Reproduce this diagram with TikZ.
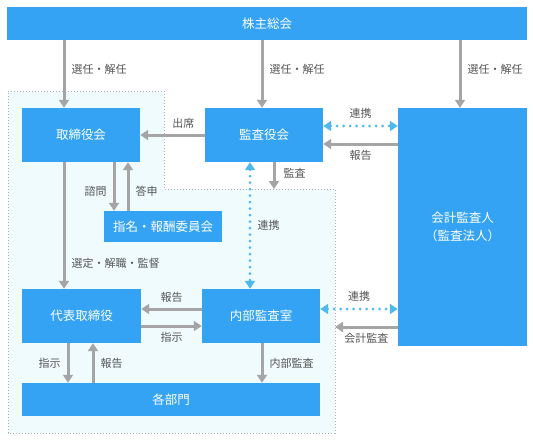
\documentclass[tikz,border=0pt]{standalone}
\usepackage{fontspec}
\setmainfont{Noto Sans CJK JP}
\usetikzlibrary{arrows.meta,calc}
\definecolor{boxblue}{HTML}{34A3F4}
\definecolor{linkblue}{HTML}{4DB9EF}
\definecolor{arrowgray}{HTML}{A5A5A5}
\definecolor{labelgray}{HTML}{555555}
\definecolor{areafill}{HTML}{EFFBFD}
\definecolor{arealine}{HTML}{AFAFAF}

\begin{document}
\begin{tikzpicture}[
    x=1pt, y=-1pt,
    b/.style ={
        fill=boxblue,
        text=white,
        font=\fontsize{12.5}{18}\selectfont,
        inner sep=0pt,
        align=center
    },
    arr/.style ={
        draw=arrowgray,
        line width=3pt,
        -{Triangle[width=10pt,length=8pt]}
    },
    link/.style ={
        draw=linkblue,
        line width=3pt,
        line cap=round,
        dash pattern=on 0pt off 6.5pt,
        {Triangle[width=10pt,length=8pt]}-{Triangle[width=10pt,length=8pt]}
    },
    lbl/.style ={
        text=labelgray,
        font=\fontsize{11}{13}\selectfont,
        inner sep=3pt
    }
    ]

    \useasboundingbox (0,0) rectangle (533,442);

    % area of the company
    \coordinate (regtop) at (335,189);
    \draw[dotted, line width=1pt, draw=arealine, fill=areafill]
        (8,91) -- (164,91) -- (164,189) -- (regtop) -- (335,433) -- (8,433) -- cycle;

    \node[b, minimum width=520pt, minimum height=33pt] (soukai) at (267,23.5) {株主総会};
    \node[b, minimum width=118pt, minimum height=54pt] (torishimari) at (81,135) {取締役会};
    \node[b, minimum width=118pt, minimum height=54pt] (kansayaku) at (264,135) {監査役会};
    \node[b, minimum width=129pt, minimum height=238pt] (kaikei) at (462.5,227) {会計監査人\\（監査法人）};
    \node[b, minimum width=118pt, minimum height=31pt] (shimei) at (163,226.5) {指名・報酬委員会};
    \node[b, minimum width=119pt, minimum height=54pt] (daihyo) at (81.5,316) {代表取締役};
    \node[b, minimum width=118pt, minimum height=54pt] (naibu) at (261,316) {内部監査室};
    \node[b, minimum width=298pt, minimum height=33pt] (kakubu) at (171,399.5) {各部門};

    % shareholders
    \foreach \dst/\shift in {torishimari/-17, kansayaku/-2, kaikei/-2.5}
        \draw[arr] ([xshift=\shift pt]\dst.north |- soukai.south) -- node[lbl, right=3pt, pos=0.43] {選任・解任} ([xshift=\shift pt]\dst.north);

    % board and auditors
    \draw[arr] (kansayaku.west) -- node[lbl, above=2pt, pos=0.33] {出席} (torishimari.east);
    \draw[link] ([yshift=9pt]kansayaku.east) -- node[lbl, above=3pt] {連携} ([yshift=9pt]kansayaku.east -| kaikei.west);
    \draw[arr] ([yshift=-9pt]kansayaku.east -| kaikei.west) -- node[lbl, below=2pt] {報告} ([yshift=-9pt]kansayaku.east);
    \draw[arr] ([xshift=10pt]kansayaku.south) -- node[lbl, right=5pt, pos=0.4] {監査} ([xshift=10pt]kansayaku.south |- regtop);
    \draw[arr] ([xshift=33pt]torishimari.south) -- node[lbl, left=3pt, pos=0.6] {諮問} ([xshift=33pt]torishimari.south |- shimei.north);
    \draw[arr] ([xshift=47pt]torishimari.south |- shimei.north) -- node[lbl, right=3pt, pos=0.4] {答申} ([xshift=47pt]torishimari.south);
    \draw[arr] ([xshift=-17pt]torishimari.south) -- node[lbl, right=3pt, pos=0.8] {選定・解職・監督} ([xshift=-17pt]torishimari.south |- daihyo.north);
    \draw[link] ([xshift=-14pt]kansayaku.south) -- node[lbl, right=3pt] {連携} ([xshift=-14pt]kansayaku.south |- naibu.north);

    % internal audit
    \draw[arr] ([yshift=7pt]naibu.west) -- node[lbl, above=2pt] {報告} ([yshift=7pt]naibu.west -| daihyo.east);
    \draw[arr] ([yshift=-10pt]naibu.west -| daihyo.east) -- node[lbl, below=2pt] {指示} ([yshift=-10pt]naibu.west);
    \draw[link] ([yshift=7pt]naibu.east) -- node[lbl, above=3pt] {連携} ([yshift=7pt]naibu.east -| kaikei.west);
    \draw[arr] ([yshift=-11pt]naibu.east -| kaikei.west) -- node[lbl, below=2pt] {会計監査} ([yshift=-11pt]naibu.east -| regtop);

    % departments
    \draw[arr] ([xshift=-13.5pt]daihyo.south) -- node[lbl, left=3pt] {指示} ([xshift=-13.5pt]daihyo.south |- kakubu.north);
    \draw[arr] ([xshift=11.5pt]daihyo.south |- kakubu.north) -- node[lbl, right=3pt] {報告} ([xshift=11.5pt]daihyo.south);
    \draw[arr] ([xshift=1pt]naibu.south) -- node[lbl, right=3pt] {内部監査} ([xshift=1pt]naibu.south |- kakubu.north);
\end{tikzpicture}
\end{document}
